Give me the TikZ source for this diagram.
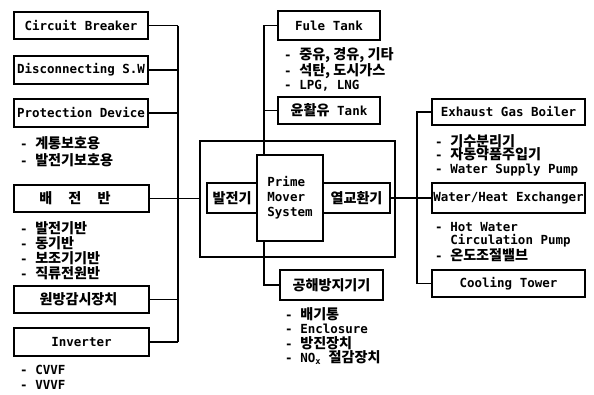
\documentclass[tikz,border=0pt]{standalone}
\usepackage{fontspec}
\setmainfont{DejaVu Sans Mono}
\newfontfamily\kr{Noto Sans CJK KR Bold}[Scale=1.13]
\begin{document}
\begin{tikzpicture}[x=1pt,y=-1pt,
  every node/.style={font=\fontsize{12.5}{15}\selectfont\bfseries},
  bx/.style={draw,line width=1.2pt,inner sep=0pt},
  lst/.style={anchor=west,align=left,inner sep=0pt},
  ln/.style={line width=1.2pt}]
\useasboundingbox (0,0) rectangle (594,394);
% left column
\node[bx,minimum width=134,minimum height=27] (cb) at (81,25.5) {Circuit Breaker};
\node[bx,minimum width=134,minimum height=28] (ds) at (81,70) {Disconnecting S.W};
\node[bx,minimum width=134,minimum height=28] (pd) at (81,113) {Protection Device};
\node[lst,font=\fontsize{12.5}{17}\selectfont\bfseries] (pdl) at (20,151.5) {- {\kr 계통보호용}\\- {\kr 발전기보호용}};
\node[bx,minimum width=135,minimum height=27] (bj) at (81.5,198.5) {{\kr 배\hspace{1.15em}전\hspace{1.15em}반}\hspace*{13pt}};
\node[lst] (bjl) at (20,250.5) {- {\kr 발전기반}\\- {\kr 동기반}\\- {\kr 보조기기반}\\- {\kr 직류전원반}};
\node[bx,minimum width=135,minimum height=27] (rm) at (81.5,299.5) {{\kr 원방감시장치}\hspace*{6pt}};
\node[bx,minimum width=135,minimum height=28] (inv) at (81.5,342) {Inverter};
\node[lst] (invl) at (20,377.5) {- CVVF\\- VVVF};
\coordinate (lv) at (178,0);
\draw[ln] (cb.east) -- (cb.east -| lv);
\draw[ln] (ds.east) -- (ds.east -| lv);
\draw[ln] (pd.east) -- (pd.east -| lv);
\draw[ln] (rm.east) -- (rm.east -| lv);
\draw[ln] (inv.east) -- (inv.east -| lv);
\draw[ln] (cb.east -| lv) -- (inv.east -| lv);
% centre
\node[bx,minimum width=195,minimum height=116] (outer) at (297.5,199) {};
\draw[ln] (bj.east) -- (bj.east -| outer.west);
\node[bx,minimum width=66,minimum height=86,fill=white,align=left] (pm) at (290,198) {Prime\\Mover\\System};
\node[bx,minimum width=50,minimum height=30] (gen) at (232,198) {\kr 발전기};
\node[bx,minimum width=67,minimum height=30] (hx) at (356.5,198) {\kr 열교환기};
% top
\node[bx,minimum width=102,minimum height=29] (ft) at (329,25.5) {Fule Tank};
\node[lst,font=\fontsize{12.5}{14.5}\selectfont\bfseries] (ftl) at (284,69.5) {- {\kr 중유, 경유, 기타}\\- {\kr 석탄, 도시가스}\\- LPG, LNG};
\node[bx,minimum width=102,minimum height=27] (lub) at (329,110.5) {{\kr 윤활유} Tank};
\coordinate (tv) at (264,0);
\draw[ln] (ft.west) -| (tv |- pm.north);
\draw[ln] (lub.west) -- (lub.west -| tv);
% bottom
\node[bx,minimum width=103,minimum height=30] (pc) at (331.5,285) {\kr 공해방지기기};
\draw[ln] (tv |- pm.south) |- (pc.west);
\node[lst,font=\fontsize{12.5}{14.5}\selectfont\bfseries] (pcl) at (285,336) {- {\kr 배기통}\\- Enclosure\\- {\kr 방진장치}\\- NO\textsubscript{x} {\kr 절감장치}};
% right
\node[bx,minimum width=153,minimum height=26] (egb) at (508.5,112) {Exhaust Gas Boiler};
\node[lst,font=\fontsize{12.5}{13.5}\selectfont\bfseries] (egbl) at (435,155) {- {\kr 기수분리기}\\- {\kr 자동약품주입기}\\- Water Supply Pump};
\node[bx,minimum width=153,minimum height=30] (whe) at (508.5,198) {Water/Heat Exchanger};
\node[lst,font=\fontsize{12.5}{13.5}\selectfont\bfseries] (whel) at (435,242) {- Hot Water\\\phantom{- }Circulation Pump\\- {\kr 온도조절밸브}};
\node[bx,minimum width=153,minimum height=27] (ct) at (508.5,283.5) {Cooling Tower};
\coordinate (rv) at (417,0);
\draw[ln] (hx.east) -- (whe.west);
\draw[ln] (egb.west) -| (rv |- ct.west) -- (ct.west);
\end{tikzpicture}
\end{document}
